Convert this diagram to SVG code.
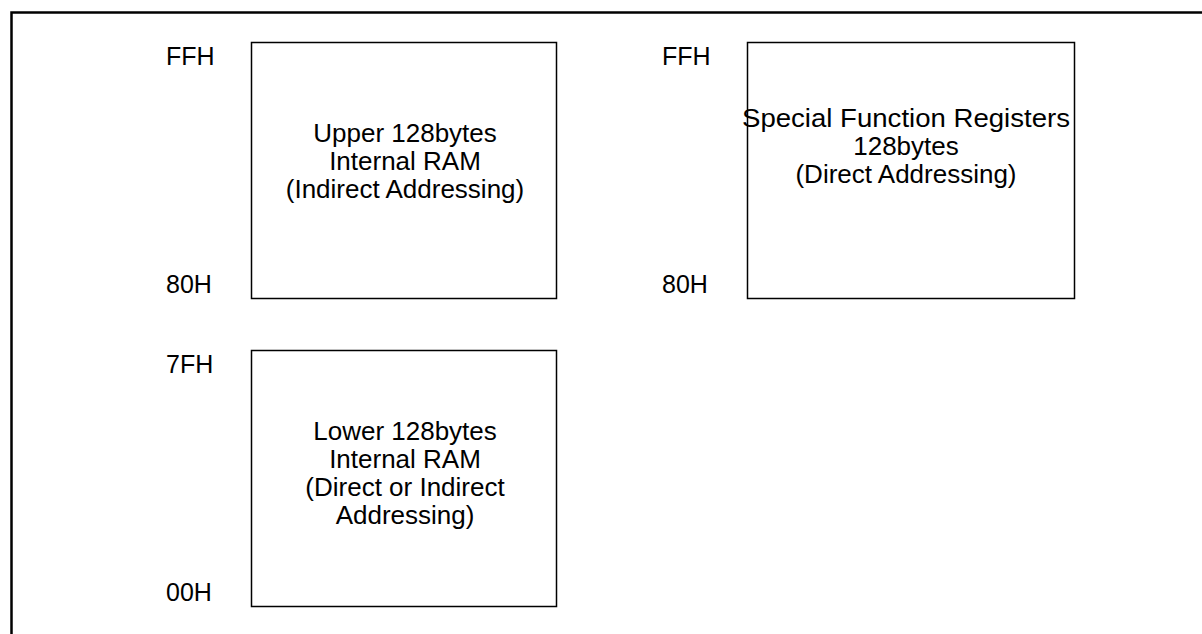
<svg xmlns="http://www.w3.org/2000/svg" width="1202" height="634" viewBox="0 0 1202 634">
<style>
.box{fill:#fff;stroke:#000;stroke-width:1.5}
.t{font-family:"Liberation Sans",Arial,sans-serif;font-size:25px;fill:#000}
.c{text-anchor:middle;font-size:26px}
</style>
<rect width="1202" height="634" fill="#fff"/>
<path d="M11.5 634 V12.5 H1202" fill="none" stroke="#000" stroke-width="2.5"/>
<g id="upper-ram">
<rect class="box" x="251.5" y="42.5" width="305" height="256"/>
<text class="t c" x="405" y="141.5">Upper 128bytes</text>
<text class="t c" x="405" y="169.5">Internal RAM</text>
<text class="t c" x="405" y="197.5">(Indirect Addressing)</text>
</g>
<g id="sfr">
<rect class="box" x="747.5" y="42.5" width="327" height="256"/>
<text class="t c" x="906" y="126.5" textLength="328" lengthAdjust="spacingAndGlyphs">Special Function Registers</text>
<text class="t c" x="906" y="154.5">128bytes</text>
<text class="t c" x="906" y="182.5">(Direct Addressing)</text>
</g>
<g id="lower-ram">
<rect class="box" x="251.5" y="350.5" width="305" height="256"/>
<text class="t c" x="405" y="439.5">Lower 128bytes</text>
<text class="t c" x="405" y="467.5">Internal RAM</text>
<text class="t c" x="405" y="495.5">(Direct or Indirect</text>
<text class="t c" x="405" y="523.5">Addressing)</text>
</g>
<g id="labels">
<text class="t" x="166" y="65">FFH</text>
<text class="t" x="166" y="293">80H</text>
<text class="t" x="166" y="373">7FH</text>
<text class="t" x="166" y="601">00H</text>
<text class="t" x="662" y="65">FFH</text>
<text class="t" x="662" y="293">80H</text>
</g>
<g id="connectors"/>
</svg>
